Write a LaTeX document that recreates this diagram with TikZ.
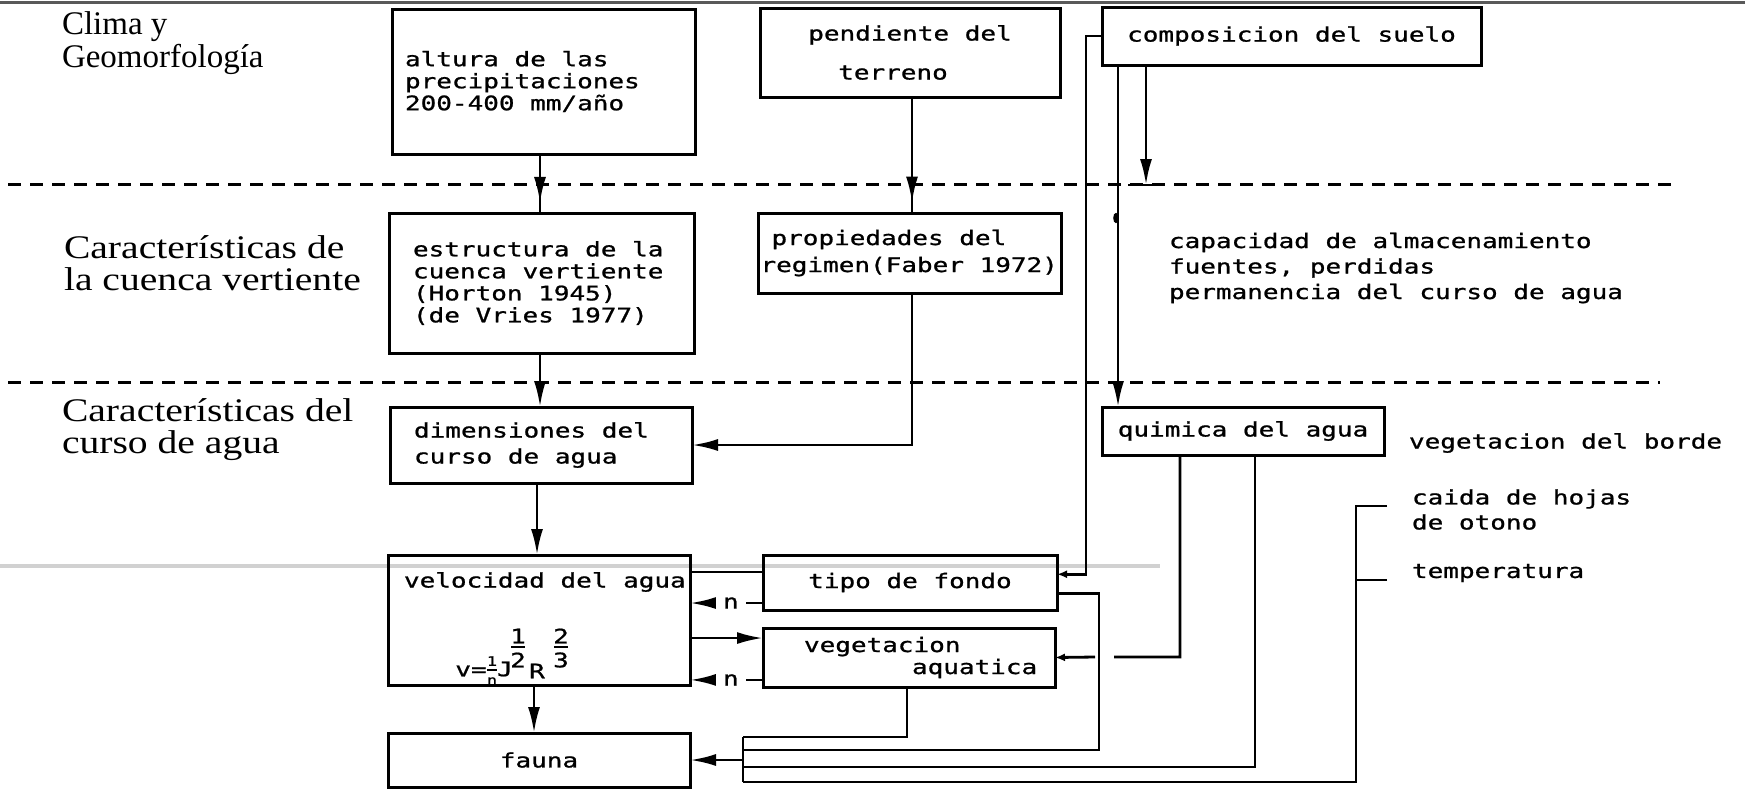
\documentclass[tikz,border=0pt]{standalone}
\usepackage{fontspec}
\usetikzlibrary{arrows.meta,calc,decorations.markings}
\newfontfamily\boxfont[FakeStretch=1.3,FakeBold=1]{DejaVu Sans Mono}
\newfontfamily\lblfont{Liberation Serif}
\newfontfamily\lblwide[FakeStretch=1.2]{Liberation Serif}

\begin{document}
\begin{tikzpicture}[x=0.5pt,y=-0.5pt,
  every node/.style={inner sep=0pt, outer sep=0pt},
  mono/.style={font=\boxfont\fontsize{10pt}{11pt}\selectfont},
  small/.style={font=\boxfont\fontsize{6.5pt}{6.5pt}\selectfont},
  box/.style={draw, line width=1.5pt, mono},
  lbl/.style={font=\lblfont\fontsize{16.5pt}{16.5pt}\selectfont, align=left, anchor=west},
  lblw/.style={font=\lblwide\fontsize{16.5pt}{16pt}\selectfont, align=left, anchor=west},
  conn/.style={line width=1.4pt},
  arr/.style={-{Latex[length=13pt,width=6pt]}},
  sarr/.style={-{Latex[length=5pt,width=4pt]}},
  midarr/.style={postaction={decorate}, decoration={markings,
      mark=at position #1 with {\arrow{Latex[length=13pt,width=6pt]}}}},
  sep/.style={line width=1.5pt, dash pattern=on 6.5pt off 4.5pt},
  nlabel/.style={mono, fill=white, inner xsep=3.5pt, inner ysep=2pt},
]
\useasboundingbox (0,0) rectangle (1745,789);

% frame line along the top and the faint scan streak
\draw[line width=1.5pt, black!65] (0,2) -- (1745,2);
\draw[line width=2pt, black!18] (0,566) -- (1160,566);

% level separators
\coordinate (d1a) at (8,184);  \coordinate (d1b) at (1672,184);
\coordinate (d2a) at (8,382);  \coordinate (d2b) at (1660,382);
\draw[sep] (d1a) -- (d1b);
\draw[sep] (d2a) -- (d2b);

% level titles
\node[lbl]  (clima)  at (62,43.5) {Clima y\\Geomorfología};
\node[lblw] (cuenca) at (64,263)  {Características de\\la cuenca vertiente};
\node[lblw] (curso)  at (62,430)  {Características del\\curso de agua};

% boxes
\node[box, minimum width=151.5pt, minimum height=72.5pt, text width=138.5pt,
      inner xsep=6.5pt, align=flush left] (altura) at (543.5,81.5)
      {altura de las\\precipitaciones\\200-400 mm/año};
\node[box, minimum width=150pt, minimum height=44.5pt, align=center]
      (pendiente) at (910,52.5) {pendiente del\\[8.5pt]terreno\hspace*{17pt}};
\node[box, minimum width=189.5pt, minimum height=29pt]
      (composicion) at (1291.5,36) {composicion del suelo};
\node[box, minimum width=152.5pt, minimum height=70pt, text width=128.5pt,
      inner xsep=12pt, align=flush left] (estructura) at (541.5,283)
      {estructura de la\\cuenca vertiente\\(Horton 1945)\\(de Vries 1977)};
\node[box, minimum width=151.5pt, minimum height=40pt, text width=149pt,
      inner xsep=1.25pt, align=flush left] (propiedades) at (909.5,253)
      {\hspace*{5.5pt}propiedades del\\[2.5pt]regimen(Faber 1972)};
\node[box, minimum width=151pt, minimum height=38pt, text width=127pt,
      inner xsep=12pt, align=flush left] (dimensiones) at (541,445)
      {dimensiones del\\[2pt]curso de agua};
\node[box, minimum width=151pt, minimum height=65pt] (velocidad) at (539,620) {};
\node[mono, anchor=west] (vtitle) at (404,582) {velocidad del agua};
\node[box, minimum width=147pt, minimum height=27.5pt] (tipo) at (910,582.5) {tipo de fondo};
\node[box, minimum width=146pt, minimum height=29.5pt, text width=134pt,
      inner xsep=6pt, align=flush left] (vegetacion) at (909,657.5)
      {\hspace*{14.5pt}vegetacion\\\hspace*{68.5pt}aquatica};
\node[box, minimum width=151pt, minimum height=27pt] (fauna) at (539,760) {fauna};
\node[box, minimum width=141pt, minimum height=24pt] (quimica) at (1243,431) {quimica del agua};

% free texts
\node[mono, anchor=west, align=left, font=\boxfont\fontsize{10pt}{12.75pt}\selectfont]
      (capac) at (1169,268)
      {capacidad de almacenamiento\\fuentes, perdidas\\permanencia del curso de agua};
\node[mono, anchor=west] (borde) at (1409,443) {vegetacion del borde};
\node[mono, anchor=west, align=left, font=\boxfont\fontsize{10pt}{12.5pt}\selectfont]
      (caida) at (1412,509.5) {caida de hojas\\de otono};
\node[mono, anchor=west] (temp) at (1412,573) {temperatura};

% flow formula inside the velocity box
\node[mono]  (fv)  at (471,671) {v=};
\node[small] (fn1) at (492,661) {1};
\node[small] (fn2) at (492,681) {n};
\draw[line width=0.9pt] (487,670) -- (497,670);
\node[mono]  (fj)  at (505,669) {J};
\node[mono]  (fa1) at (518,636) {1};
\node[mono]  (fa2) at (518,660) {2};
\draw[line width=1.1pt] (511,647) -- (525,647);
\node[mono]  (fr)  at (537,671) {R};
\node[mono]  (fb1) at (561,636) {2};
\node[mono]  (fb2) at (561,660) {3};
\draw[line width=1.1pt] (554,647) -- (568,647);

% vertical flow between levels
\coordinate (colA) at (540,0);
\coordinate (colB) at (912,0);
\coordinate (colC) at (537,0);
\coordinate (colD) at (534,0);
\draw[conn, midarr=0.83] (altura.south -| colA) -- (estructura.north -| colA);
\draw[conn, midarr=0.91] (pendiente.south -| colB) -- (propiedades.north -| colB);
\draw[conn, arr] (estructura.south -| colA) -- (dimensiones.north -| colA);
\draw[conn, arr] (dimensiones.south -| colC) -- (velocidad.north -| colC);
\draw[conn, arr] (velocidad.south -| colD) -- (fauna.north -| colD);
\draw[conn, arr] (propiedades.south -| colB) |- (dimensiones.east);

% soil composition branches
\coordinate (colE) at (1118,0);
\coordinate (colF) at (1146,0);
\coordinate (cT) at (1146,185);
\draw[conn, sarr] (composicion.west) -- ++(-16,0)
      |- ($(tipo.north east)!0.35!(tipo.south east)$);
\draw[conn, arr] (composicion.south -| colE) -- (quimica.north -| colE);
\fill (1116,218) ellipse (1.4pt and 2.6pt);
\draw[conn, arr] (composicion.south -| colF) -- (cT);
\draw[conn] ($(cT)+(-18,0)$) -- ($(cT)+(11,0)$);

% links around the velocity box
\coordinate (p3) at ($(vegetacion.north west)!0.17!(vegetacion.south west)$);
\coordinate (p4) at ($(tipo.north west)!0.31!(tipo.south west)$);
\coordinate (n1s) at ($(tipo.north west)!0.873!(tipo.south west)$);
\coordinate (n2s) at ($(vegetacion.north west)!0.88!(vegetacion.south west)$);
\draw[conn, arr] (n1s) -- (velocidad.east |- n1s) node[nlabel, pos=0.44] (n1) {n};
\draw[conn, arr] (n2s) -- (velocidad.east |- n2s) node[nlabel, pos=0.44] (n2) {n};
\draw[conn, arr] (velocidad.east |- p3) -- (p3);
\draw[conn] (velocidad.east |- p4) -- (p4);

% collector towards the fauna box
\coordinate (b1) at (743,737);
\coordinate (b2) at (743,750);
\coordinate (b3) at (743,767);
\coordinate (b4) at (743,782);
\coordinate (bin) at (743,760);
\coordinate (vx) at (907,0);
\coordinate (qx1) at (1180,0);
\coordinate (qx2) at (1255,0);
\draw[conn] (vegetacion.south -| vx) |- (b1);
\draw[conn] ($(tipo.north east)!0.7!(tipo.south east)$) -- ++(42,0) |- (b2);
\draw[conn] (quimica.south -| qx2) |- (b3);
\draw[conn, sarr] (quimica.south -| qx1) |- (1114,657) ++(-19,0) -- (vegetacion.east);
\coordinate (k1) at (1387,506);
\coordinate (k2) at (1387,580);
\draw[conn] (k1) -- (1356,506) |- (b4);
\draw[conn] (k2) -- (1356,580);
\draw[conn] (b1) -- (b4);
\draw[conn, arr] (bin) -- (fauna.east);
\end{tikzpicture}
\end{document}
